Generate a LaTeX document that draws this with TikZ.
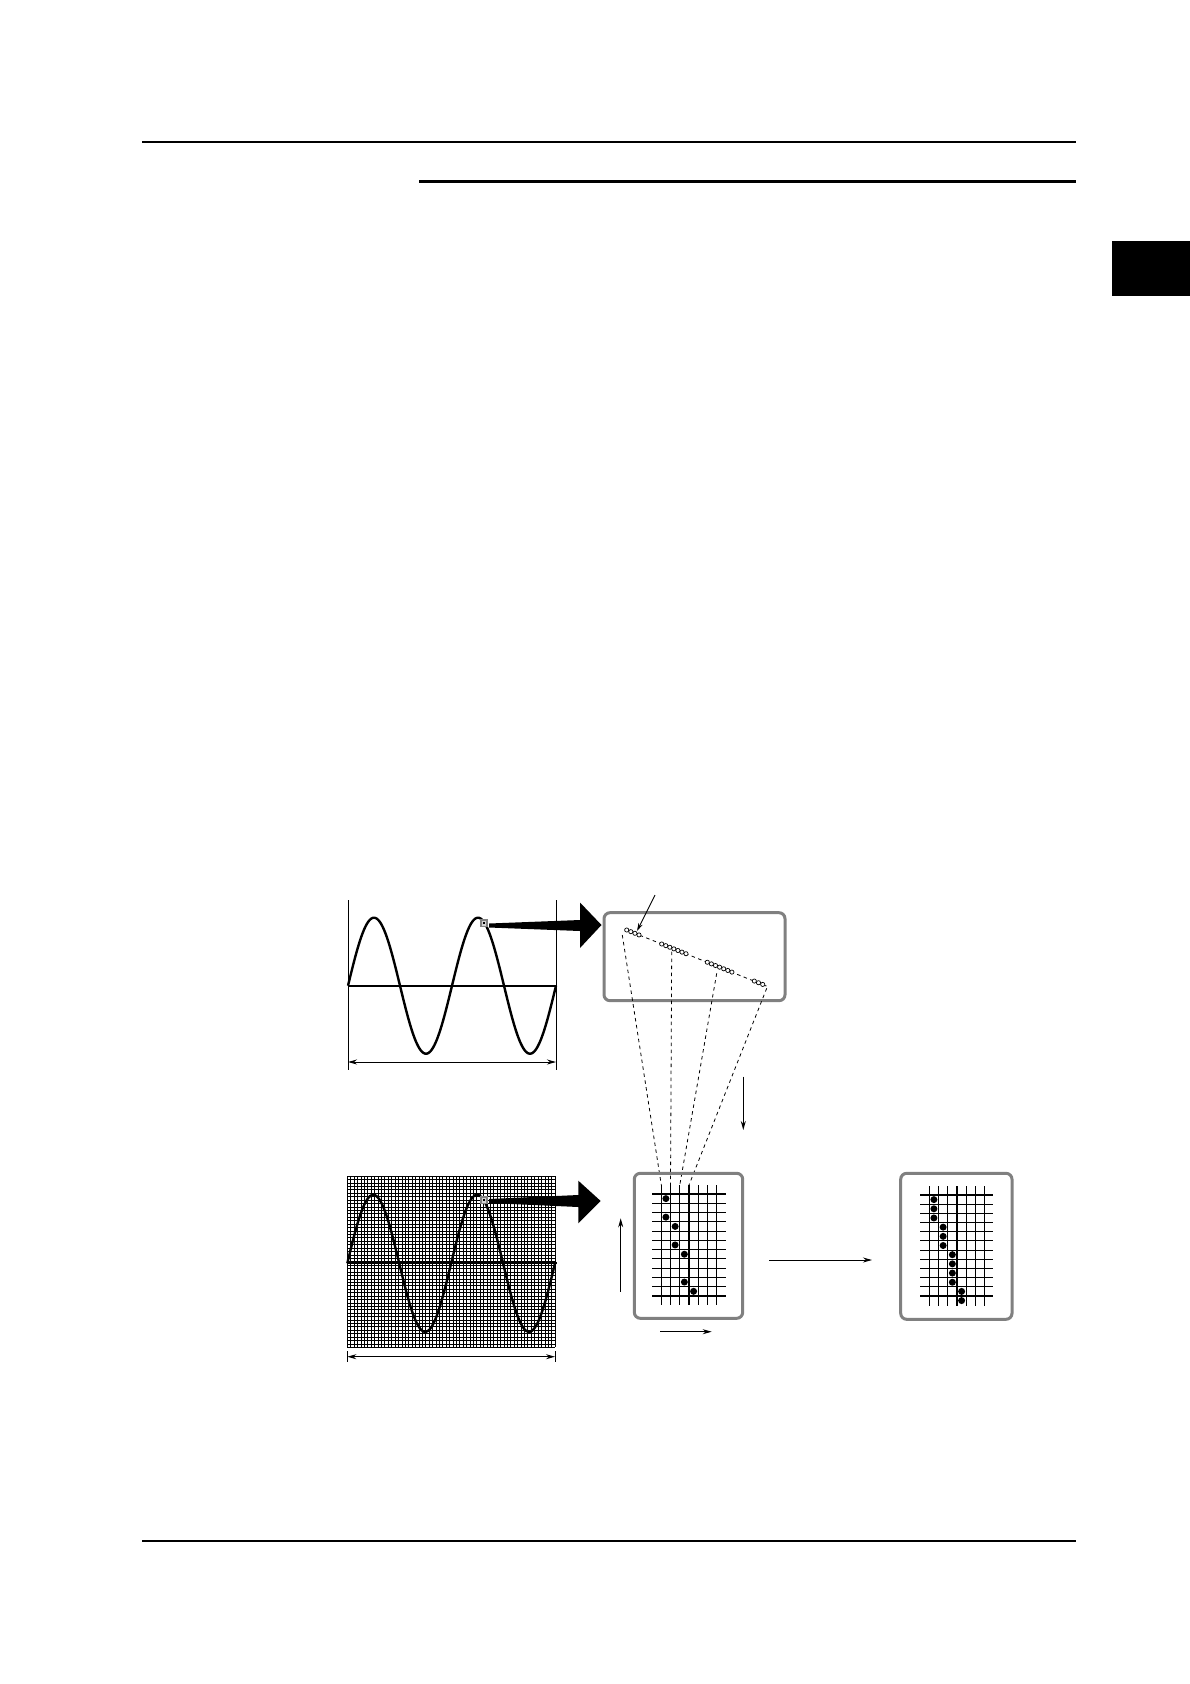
\documentclass[tikz,border=0pt]{standalone}
\usetikzlibrary{arrows.meta}
\definecolor{boxgray}{RGB}{128,128,128}
\begin{document}
\begin{tikzpicture}[x=1pt,y=-1pt,
  thinrule/.style={line width=1.1pt,black},
  thickrule/.style={line width=2.4pt,black},
  frame/.style={line width=1pt,black},
  axisline/.style={line width=2pt,black},
  wave/.style={line width=2.4pt,black},
  dimarrow/.style={line width=1pt,{Stealth[length=9pt,width=5pt]}-{Stealth[length=9pt,width=5pt]}},
  flowarrow/.style={line width=1pt,-{Stealth[length=9pt,width=5pt]}},
  zoombox/.style={draw=boxgray,line width=3pt,rounded corners=6pt},
  bigarrow/.style={fill=black,draw=none},
  marker/.style={draw=boxgray,fill=gray!35,line width=1.2pt},
  samplecirc/.style={draw=black,fill=white,line width=0.7pt},
  projline/.style={line width=0.8pt,dash pattern=on 3.5pt off 3.5pt},
  cellline/.style={line width=1.1pt,black},
  dot/.style={fill=black},
  fine/.style={line width=0.55pt,black}]
\useasboundingbox (0,0) rectangle (1190,1684);
% page rules and tab
\draw[thinrule] (142,142) -- (1076,142);
\draw[thickrule] (419,181.5) -- (1076,181.5);
\draw[thinrule] (142,1541) -- (1076,1541);
\fill[black] (1111.6,240.6) rectangle (1190,296.4);

% ---------- top-left waveform ----------
\draw[frame] (348,900) -- (348,1070);
\draw[frame] (556,900) -- (556,1070);
\draw[axisline] (348,985.7) -- (556,985.7);
\draw[wave] plot[domain=348:556,samples=220,smooth] (\x,{985.7-68*sin((\x-348)/104*360)});
\coordinate (dtl) at (348,1062);
\coordinate (dtr) at (556,1062);
\draw[dimarrow] (dtl) -- (dtr);
\draw[bigarrow] (489,923.5) -- (580,920) -- (580,902.5) -- (601.5,925) -- (580,948) -- (580,931) -- (489,927.5) -- cycle;
\draw[marker] (481,920) rectangle (487,926.5);
\fill[black] (483.2,922.2) rectangle (485,924.3);

% ---------- upper zoom box ----------
\draw[zoombox] (604,912.7) rectangle (785,1000.7);
\draw[projline] (626.7,930) -- (767,986.3);
\foreach \s/\n/\d in {626.7/3/4.1, 661.7/6/4.05, 707.3/6/4.1, 754.3/2/4.2}{
  \foreach \k in {0,...,\n}{
    \draw[samplecirc] ({\s+\k*\d},{930+0.4*(\s+\k*\d-626.7)}) circle (2.1);
  }
}
\coordinate (lblA) at (655,895);
\coordinate (lblB) at (637,931);
\draw[line width=0.9pt,-{Stealth[length=8pt,width=4.5pt]}] (lblA) -- (lblB);

% projection lines
\coordinate (p1) at (622.3,935);   \coordinate (q1) at (661.3,1185);
\coordinate (p2) at (671.7,951.7); \coordinate (q2) at (670.5,1185);
\coordinate (p3) at (716.7,973.3); \coordinate (q3) at (679.8,1185);
\coordinate (p4) at (766.7,988.3); \coordinate (q4) at (689,1185);
\draw[projline] (p1) -- (q1);
\draw[projline] (p2) -- (q2);
\draw[projline] (p3) -- (q3);
\draw[projline] (p4) -- (q4);

% down arrow
\coordinate (da1) at (743.3,1076.7);
\coordinate (da2) at (743.3,1130);
\draw[flowarrow] (da1) -- (da2);

% ---------- bottom-left grid waveform ----------
\foreach \i in {0,...,61}{
  \draw[fine] ({347.3+\i*3.405},1176) -- ({347.3+\i*3.405},1347.3);
}
\foreach \j in {0,...,50}{
  \draw[fine] (347.3,{1176+\j*3.426}) -- (555,{1176+\j*3.426});
}
\draw[axisline] (347.3,1263.3) -- (556.5,1263.3);
\draw[wave] plot[domain=347.3:555,samples=220,smooth] (\x,{1263.3-68.5*sin((\x-347.3)/103.85*360)});
\draw[frame] (347.3,1351) -- (347.3,1362);
\draw[frame] (555,1351) -- (555,1362);
\coordinate (dbl) at (347.3,1356.7);
\coordinate (dbr) at (555,1356.7);
\draw[dimarrow] (dbl) -- (dbr);
\draw[bigarrow] (489,1199) -- (578.3,1195) -- (578.3,1180.7) -- (600.7,1201) -- (578.3,1223.3) -- (578.3,1207) -- (489,1203) -- cycle;
\draw[marker] (481,1197) rectangle (487,1203.5);
\fill[black] (483.2,1199.2) rectangle (485,1201.3);

% ---------- lower middle cell box ----------
\draw[zoombox] (634.3,1173.3) rectangle (742.7,1318.3);
\foreach \k in {0,...,6}{
  \draw[cellline] ({661.3+\k*9.23},1185) -- ({661.3+\k*9.23},1305);
}
\foreach \k in {0,...,11}{
  \draw[cellline] (652.3,{1194+\k*9.27}) -- (725.7,{1194+\k*9.27});
}
\foreach \c/\r in {1/0,1/2,2/3,2/5,3/6,3/9,4/10}{
  \fill[dot] ({661.3+(\c-1)*9.23+4.6},{1194+\r*9.27+4.6}) circle (3.5);
}
\coordinate (ua1) at (620.7,1291.7);
\coordinate (ua2) at (620.7,1218.3);
\draw[flowarrow] (ua1) -- (ua2);
\coordinate (ra1) at (660,1331.7);
\coordinate (ra2) at (711.7,1331.7);
\draw[flowarrow] (ra1) -- (ra2);

% arrow to right box
\coordinate (ha1) at (769,1260);
\coordinate (ha2) at (872,1260);
\draw[flowarrow] (ha1) -- (ha2);

% ---------- right cell box ----------
\draw[zoombox] (900.7,1173.3) rectangle (1012,1319.3);
\foreach \k in {0,...,6}{
  \draw[cellline] ({929.3+\k*9.23},1186) -- ({929.3+\k*9.23},1305.7);
}
\foreach \k in {0,...,11}{
  \draw[cellline] (920,{1195+\k*9.18}) -- (993.3,{1195+\k*9.18});
}
\foreach \c/\r in {1/0,1/1,1/2,2/3,2/4,2/5,3/6,3/7,3/8,3/9,4/10,4/11}{
  \fill[dot] ({929.3+(\c-1)*9.23+4.6},{1195+\r*9.18+4.6}) circle (3.5);
}
\end{tikzpicture}
\end{document}
